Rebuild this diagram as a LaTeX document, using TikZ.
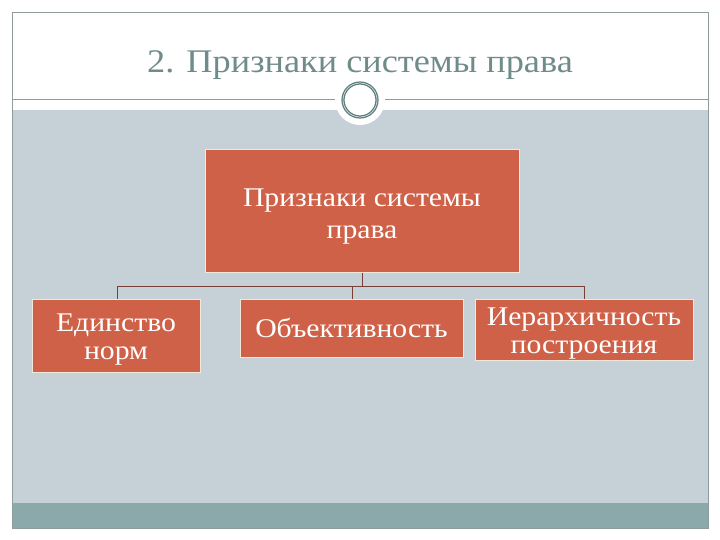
\documentclass[tikz,border=0pt]{standalone}
\usepackage{fontspec}
\setmainfont{Liberation Serif}[FakeStretch=1.1]
\definecolor{boxfill}{HTML}{CF6148}
\definecolor{boxline}{HTML}{F2E8DA}
\definecolor{bggray}{HTML}{C5D0D7}
\definecolor{teal}{HTML}{8BA9AA}
\definecolor{titlecol}{HTML}{6F8C8A}
\definecolor{framecol}{HTML}{8E9C9C}
\definecolor{ringcol}{HTML}{5F7F7F}
\definecolor{conncol}{HTML}{7A3E34}
\tikzset{
  sbox/.style={draw=boxline, line width=1pt, fill=boxfill, inner sep=0pt},
  btext/.style={text=white, align=center, inner sep=0pt, font=\fontsize{27}{28}\selectfont},
  conn/.style={draw=conncol, line width=0.8pt},
}
\begin{document}
\begin{tikzpicture}[x=1pt,y=-1pt]
\useasboundingbox (0,0) rectangle (720,540);
\fill[white] (0,0) rectangle (720,540);
% gray body
\fill[bggray] (12,110) rectangle (708,503);
\fill[teal] (12,503) rectangle (708,528);
\draw[framecol, line width=0.8pt] (12,12) rectangle (708,528);
% title line
\draw[framecol, line width=1pt] (12,100) -- (708,100);
% ring
\fill[white] (360,100) circle (25);
\draw[ringcol, line width=3.2pt] (360,100) circle (17);
\draw[white!80!ringcol, line width=0.6pt] (360,100) circle (17);
\node[text=titlecol, font=\fontsize{33}{36}\selectfont, anchor=base] (title) at (360,73) {2. Признаки системы права};
% boxes
\node[sbox, minimum width=314pt, minimum height=122pt] (top) at (362,211) {};
\node[btext, font=\fontsize{27}{32}\selectfont] (toptxt) at (362,217) {Признаки системы\\права};
\node[sbox, minimum width=168pt, minimum height=73pt] (b1) at (116,335.5) {};
\node[btext] (b1txt) at (116,339.5) {Единство\\норм};
\node[sbox, minimum width=223pt, minimum height=58pt] (b2) at (351.5,328) {};
\node[btext] (b2txt) at (351.5,328) {Объективность};
\node[sbox, minimum width=218pt, minimum height=61pt] (b3) at (584,329.5) {};
\node[btext] (b3txt) at (584,334) {Иерархичность\\построения};
% connectors
\coordinate (hub) at (362,286);
\coordinate (hl) at (117,286);
\coordinate (hm) at (352,286);
\coordinate (hr) at (584,286);
\draw[conn] (top.south) -- (hub);
\draw[conn] (hl) -- (hr);
\draw[conn] (hl) -- (hl |- b1.north);
\draw[conn] (hm) -- (hm |- b2.north);
\draw[conn] (hr) -- (hr |- b3.north);
\end{tikzpicture}
\end{document}
